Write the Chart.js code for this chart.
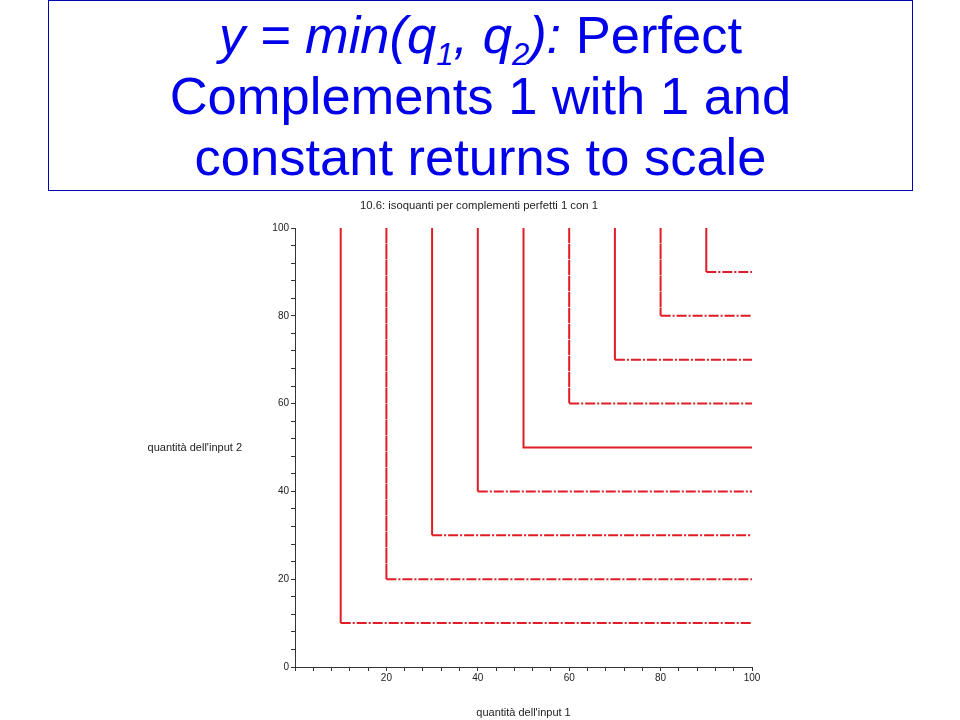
<!DOCTYPE html>
<html lang="it">
<head>
  <meta charset="UTF-8" />
  <title>Perfect Complements</title>
  <script src="https://cdn.jsdelivr.net/npm/chart.js@4"></script>
  <style>
    html, body { margin: 0; padding: 0; background: #fff; }
    body { width: 960px; height: 720px; position: relative; overflow: hidden; font-family: "Liberation Sans", Arial, sans-serif; }
    #headBox {
      position: absolute; left: 48px; top: 0; width: 863px; height: 186px;
      border: 1px solid #0000b4; color: #0000ea;
      font-size: 52.5px; line-height: 61px; text-align: center; padding-top: 3px; box-sizing: content-box;
    }
    #headBox i { font-style: italic; }
    #headBox .sub { font-size: 31px; position: relative; top: 12px; line-height: 0; }
    #wrap { position: absolute; left: 0; top: 0; width: 960px; height: 720px; }
  </style>
</head>
<body>
  <!-- cartella del titolo -->
  <div id="headBox">
    <i>y = min(q<span class="sub">1</span>, q<span class="sub">2</span>):</i> Perfect<br>
    Complements 1 with 1 and<br>
    constant returns to scale
  </div>

  <div id="wrap"><canvas id="isoChart" width="960" height="720"></canvas></div>

  <script>
    // livelli di produzione (isoquanti)
    const levels = [10, 20, 30, 40, 50, 60, 70, 80, 90];
    const axisMax = 100;
    const tickStep = 4;
    const labelStep = 20;

    const plotTitle = '10.6: isoquanti per complementi perfetti 1 con 1';
    const xLabel = "quantità dell'input 1";
    const yLabel = "quantità dell'input 2";

    // stile tratteggio per ogni isoquanto (tratto verticale / orizzontale)
    const dotted = [3, 1.5];
    const longDash = [14, 2];
    const dashDot = [10, 2, 2, 2];
    const solid = [];
    const verticalDash = [dotted, longDash, dotted, solid, solid, longDash, dotted, longDash, dotted];
    const horizontalDash = [dashDot, dashDot, dashDot, dashDot, solid, dashDot, dashDot, dashDot, dashDot];

    const red = '#e01c24';
    const fontFam = '"Liberation Sans", Arial, sans-serif';

    // ogni isoquanto: verticale da (k,100) a (k,k), poi orizzontale fino a (100,k)
    const datasets = levels.map((k, i) => ({
      label: 'y = ' + k,
      data: [{ x: k, y: axisMax }, { x: k, y: k }, { x: axisMax, y: k }],
      showLine: true,
      borderColor: red,
      borderWidth: 2,
      pointRadius: 0,
      fill: false,
      clip: false,
      segment: {
        borderDash: c => c.p0.parsed.x === c.p1.parsed.x ? verticalDash[i] : horizontalDash[i]
      }
    }));

    // titolo del grafico e etichetta asse y (orizzontale, a sinistra)
    const textPlugin = {
      id: 'extraText',
      afterDraw(chart) {
        const { ctx, chartArea } = chart;
        ctx.save();
        ctx.fillStyle = '#222';
        ctx.textBaseline = 'middle';
        ctx.font = '11.3px ' + fontFam;
        ctx.textAlign = 'center';
        ctx.fillText(plotTitle, 479, 206);
        ctx.font = '11px ' + fontFam;
        ctx.textAlign = 'right';
        ctx.fillText(yLabel, chartArea.left - 53, (chartArea.top + chartArea.bottom) / 2);
        ctx.restore();
      }
    };

    Chart.defaults.font.family = fontFam;
    Chart.defaults.font.size = 10;
    Chart.defaults.color = '#222';

    const ctx = document.getElementById('isoChart').getContext('2d');
    new Chart(ctx, {
      type: 'scatter',
      data: { datasets: datasets },
      plugins: [textPlugin],
      options: {
        responsive: false,
        animation: false,
        layout: { padding: { left: 250, right: 208, top: 228, bottom: 0 } },
        plugins: {
          legend: { display: false },
          tooltip: { enabled: false },
          title: { display: false }
        },
        scales: {
          x: {
            type: 'linear',
            min: 0,
            max: axisMax,
            afterFit: s => { s.height = 53; },
            ticks: {
              stepSize: tickStep,
              autoSkip: false,
              maxRotation: 0,
              padding: 1,
              callback: v => (v % labelStep === 0 && v !== 0) ? v : ''
            },
            grid: { drawOnChartArea: false, tickLength: 4, color: '#333' },
            border: { display: true, color: '#333', width: 1 },
            title: { display: true, text: xLabel, font: { size: 11 }, padding: { top: 0, bottom: 0 } }
          },
          y: {
            type: 'linear',
            min: 0,
            max: axisMax,
            afterFit: s => { s.width = 45; },
            ticks: {
              stepSize: tickStep,
              autoSkip: false,
              padding: 2,
              callback: v => (v % labelStep === 0) ? v : ''
            },
            grid: { drawOnChartArea: false, tickLength: 4, color: '#333' },
            border: { display: true, color: '#333', width: 1 }
          }
        }
      }
    });
  </script>
</body>
</html>
